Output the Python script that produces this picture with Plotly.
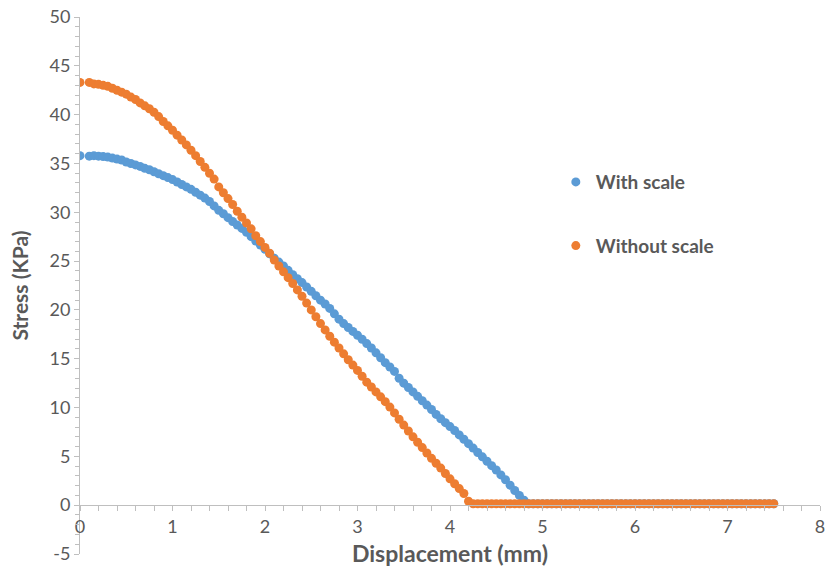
import plotly.graph_objects as go

# Shared displacement samples (mm)
displacement = [
    0.0, 0.1, 0.15, 0.2, 0.25, 0.3, 0.35, 0.4, 0.45, 0.5, 0.55, 0.6, 0.65, 0.7, 0.75, 0.8, 0.85, 0.9, 0.95, 1.0,
    1.05, 1.1, 1.15, 1.2, 1.25, 1.3, 1.35, 1.4, 1.45, 1.5, 1.55, 1.6, 1.65, 1.7, 1.75, 1.8, 1.85, 1.9, 1.95, 2.0,
    2.05, 2.1, 2.15, 2.2, 2.25, 2.3, 2.35, 2.4, 2.45, 2.5, 2.55, 2.6, 2.65, 2.7, 2.75, 2.8, 2.85, 2.9, 2.95, 3.0,
    3.05, 3.1, 3.15, 3.2, 3.25, 3.3, 3.35, 3.4, 3.45, 3.5, 3.55, 3.6, 3.65, 3.7, 3.75, 3.8, 3.85, 3.9, 3.95, 4.0,
    4.05, 4.1, 4.15, 4.2, 4.25, 4.3, 4.35, 4.4, 4.45, 4.5, 4.55, 4.6, 4.65, 4.7, 4.75, 4.8, 4.85, 4.9, 4.95, 5.0,
    5.05, 5.1, 5.15, 5.2, 5.25, 5.3, 5.35, 5.4, 5.45, 5.5, 5.55, 5.6, 5.65, 5.7, 5.75, 5.8, 5.85, 5.9, 5.95, 6.0,
    6.05, 6.1, 6.15, 6.2, 6.25, 6.3, 6.35, 6.4, 6.45, 6.5, 6.55, 6.6, 6.65, 6.7, 6.75, 6.8, 6.85, 6.9, 6.95, 7.0,
    7.05, 7.1, 7.15, 7.2, 7.25, 7.3, 7.35, 7.4, 7.45, 7.5,
]

# Stress (KPa) - With scale
stress_with_scale = [
    35.8, 35.75, 35.8, 35.75, 35.7, 35.65, 35.55, 35.45, 35.35, 35.15, 35.0, 34.85, 34.7, 34.5, 34.35, 34.15, 33.95, 33.75, 33.55, 33.35,
    33.1, 32.85, 32.6, 32.35, 32.05, 31.75, 31.45, 31.1, 30.65, 30.2, 29.85, 29.45, 29.05, 28.7, 28.35, 27.95, 27.5, 27.05, 26.65, 26.2,
    25.75, 25.3, 24.9, 24.5, 24.05, 23.6, 23.2, 22.8, 22.35, 21.9, 21.45, 21.0, 20.6, 20.15, 19.6, 19.05, 18.6, 18.2, 17.8, 17.4,
    17.0, 16.55, 16.1, 15.6, 15.1, 14.6, 14.15, 13.7, 13.0, 12.5, 12.05, 11.6, 11.15, 10.7, 10.25, 9.8, 9.3, 8.85, 8.45, 8.05,
    7.65, 7.2, 6.75, 6.3, 5.85, 5.4, 4.95, 4.5, 4.05, 3.6, 3.1, 2.6, 2.05, 1.5, 1.0, 0.5, 0.15, 0.15, 0.15, 0.15,
    0.15, 0.15, 0.15, 0.15, 0.15, 0.15, 0.15, 0.15, 0.15, 0.15, 0.15, 0.15, 0.15, 0.15, 0.15, 0.15, 0.15, 0.15, 0.15, 0.15,
    0.15, 0.15, 0.15, 0.15, 0.15, 0.15, 0.15, 0.15, 0.15, 0.15, 0.15, 0.15, 0.15, 0.15, 0.15, 0.15, 0.15, 0.15, 0.15, 0.15,
    0.15, 0.15, 0.15, 0.15, 0.15, 0.15, 0.15, 0.15, 0.15, 0.15,
]

# Stress (KPa) - Without scale
stress_without_scale = [
    43.3, 43.3, 43.15, 43.1, 43.0, 42.9, 42.7, 42.5, 42.3, 42.1, 41.8, 41.55, 41.2, 40.9, 40.6, 40.25, 39.8, 39.3, 38.85, 38.4,
    37.9, 37.4, 36.9, 36.35, 35.8, 35.2, 34.6, 34.0, 33.4, 32.6, 32.0, 31.4, 30.8, 30.1, 29.5, 28.9, 28.3, 27.6, 27.0, 26.4,
    25.8, 25.1, 24.5, 23.9, 23.3, 22.7, 22.05, 21.4, 20.7, 20.0, 19.3, 18.6, 17.95, 17.3, 16.7, 16.1, 15.5, 14.9, 14.35, 13.8,
    13.2, 12.6, 12.1, 11.6, 11.1, 10.6, 10.05, 9.45, 8.8, 8.2, 7.6, 7.0, 6.45, 5.9, 5.35, 4.8, 4.3, 3.8, 3.25, 2.7,
    2.2, 1.7, 1.2, 0.4, 0.15, 0.15, 0.15, 0.15, 0.15, 0.15, 0.15, 0.15, 0.15, 0.15, 0.15, 0.15, 0.15, 0.15, 0.15, 0.15,
    0.15, 0.15, 0.15, 0.15, 0.15, 0.15, 0.15, 0.15, 0.15, 0.15, 0.15, 0.15, 0.15, 0.15, 0.15, 0.15, 0.15, 0.15, 0.15, 0.15,
    0.15, 0.15, 0.15, 0.15, 0.15, 0.15, 0.15, 0.15, 0.15, 0.15, 0.15, 0.15, 0.15, 0.15, 0.15, 0.15, 0.15, 0.15, 0.15, 0.15,
    0.15, 0.15, 0.15, 0.15, 0.15, 0.15, 0.15, 0.15, 0.15, 0.15,
]

series_names = ["With scale", "Without scale"]
y_tick_values = [-5, 0, 5, 10, 15, 20, 25, 30, 35, 40, 45, 50]
y_tick_labels = ["-5", "0", "5", "10", "15", "20", "25", "30", "35", "40", "45", "50"]

FONT = "Lato, 'Open Sans', sans-serif"
TXT = "#595959"
AX = "#BFBFBF"

fig = go.Figure()
fig.add_trace(go.Scatter(
    x=displacement, y=stress_with_scale, mode="markers", name=series_names[0],
    legendgroup="a", marker=dict(color="#5B9BD5", size=9, line=dict(width=0)),
))
fig.add_trace(go.Scatter(
    x=displacement, y=stress_without_scale, mode="markers", name=series_names[1],
    legendgroup="b", marker=dict(color="#ED7D31", size=9, line=dict(width=0)),
))

fig.update_layout(
    width=827, height=571,
    margin=dict(l=80, r=7, t=17, b=17),
    paper_bgcolor="white", plot_bgcolor="white",
    font=dict(family=FONT, color=TXT, size=18),
    showlegend=True,
    legend=dict(
        x=0.643, y=0.728, xanchor="left", yanchor="top",
        traceorder="grouped", tracegroupgap=36,
        font=dict(family=FONT, size=19, color=TXT, weight="bold"),
        bgcolor="rgba(0,0,0,0)",
        itemsizing="trace",
    ),
    xaxis=dict(
        range=[0, 8], dtick=1, tick0=0,
        anchor="free", position=5 / 55,
        showline=True, linecolor=AX, linewidth=1,
        ticks="outside", ticklen=5, tickcolor=AX,
        minor=dict(dtick=0.2, ticks="outside", ticklen=5, tickcolor=AX),
        showgrid=False, zeroline=False, automargin=False,
        ticklabeloverflow="allow",
        tickfont=dict(family=FONT, size=18, color=TXT),
        title=dict(text="Displacement (mm)", standoff=10,
                   font=dict(family=FONT, size=23, color=TXT, weight="bold")),
    ),
    yaxis=dict(
        range=[-5, 50], tickmode="array",
        tickvals=y_tick_values, ticktext=y_tick_labels,
        showline=True, linecolor=AX, linewidth=1,
        ticks="outside", ticklen=5, tickcolor=AX,
        minor=dict(dtick=1, tick0=0, ticks="outside", ticklen=4, tickcolor=AX),
        showgrid=False, zeroline=False, automargin=False,
        ticklabeloverflow="allow",
        tickfont=dict(family=FONT, size=18, color=TXT),
        title=dict(text="Stress (KPa)", standoff=15,
                   font=dict(family=FONT, size=21, color=TXT, weight="bold")),
    ),
)

# Remove the default page margin so the figure sits at the window's top-left corner.
fig.write_html(
    "out.html",
    config={"displayModeBar": False},
    post_script="document.body.style.margin='0';",
)
